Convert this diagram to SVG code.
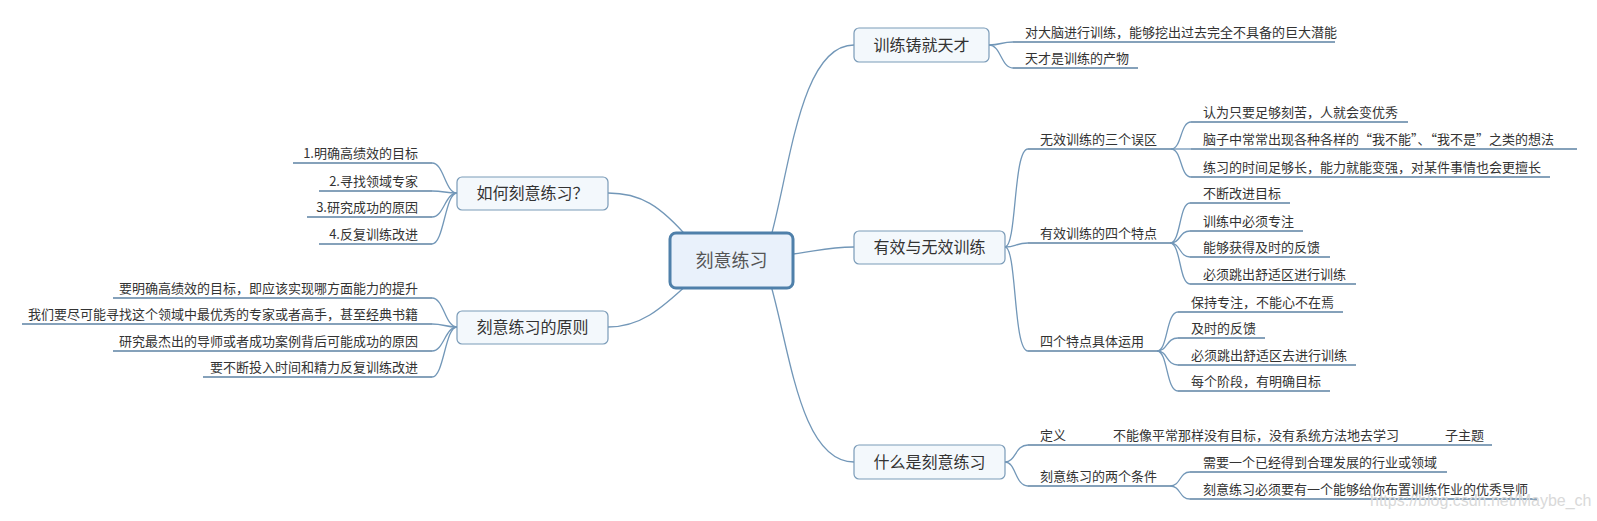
<svg xmlns="http://www.w3.org/2000/svg" width="1597" height="521" viewBox="0 0 1597 521">
<style>
text{font-family:"Noto Sans CJK SC","Noto Sans",sans-serif;fill:#333}
.t{font-size:13px}
.tr{font-size:13px;text-anchor:end}
.bt{font-size:16px;text-anchor:middle}
.ct{font-size:18px;text-anchor:middle;fill:#555}
.box{fill:#f3f8fc;stroke:#7a9bb8;stroke-width:1.2}
.cbox{fill:#e9f1fb;stroke:#4f80aa;stroke-width:3}
.ln{stroke:#5d82a3;stroke-width:1.3;fill:none}
.cn{stroke:#7297b8;stroke-width:1.3;fill:none}
.wm{font-family:"Liberation Sans",Arial,sans-serif;font-size:16px;fill:#d9d9d9}
</style>
<rect width="1597" height="521" fill="#fff"/>
<g id="connectors">
<path class="cn" d="M770,240 C790,170 800,45 854,45"/>
<path class="cn" d="M785,255 C815,252 825,247 854,247"/>
<path class="cn" d="M770,282 C790,350 800,462 854,462"/>
<path class="cn" d="M690,240 C660,205 640,193 608,193"/>
<path class="cn" d="M690,282 C660,310 640,327 608,327"/>
<path class="cn" d="M989,45 C1001,45 1001,42 1013,42"/>
<path class="cn" d="M989,45 C1001,45 1001,68 1013,68"/>
<path class="cn" d="M1005,247 C1017,247 1013,149 1028,149"/>
<path class="cn" d="M1005,247 C1016,247 1016,243 1028,243"/>
<path class="cn" d="M1005,247 C1017,247 1013,351 1028,351"/>
<path class="cn" d="M1005,462 C1016,462 1015,445 1028,445"/>
<path class="cn" d="M1005,462 C1016,462 1015,486 1028,486"/>
<path class="cn" d="M1171,149 C1182,149 1180,122 1191,122"/>
<path class="cn" d="M1171,149 L1191,149"/>
<path class="cn" d="M1171,149 C1182,149 1180,177 1191,177"/>
<path class="cn" d="M1170,243 C1181,243 1179,203 1190,203"/>
<path class="cn" d="M1170,243 C1181,243 1179,231 1190,231"/>
<path class="cn" d="M1170,243 C1181,243 1179,257 1190,257"/>
<path class="cn" d="M1170,243 C1181,243 1179,284 1190,284"/>
<path class="cn" d="M1157,351 C1168,351 1166,312 1178,312"/>
<path class="cn" d="M1157,351 C1168,351 1166,338 1178,338"/>
<path class="cn" d="M1157,351 C1168,351 1166,365 1178,365"/>
<path class="cn" d="M1157,351 C1168,351 1166,391 1178,391"/>
<path class="cn" d="M1170,486 C1181,486 1179,472 1190,472"/>
<path class="cn" d="M1170,486 C1181,486 1179,499 1190,499"/>
<path class="cn" d="M457,193 C445,193 444,163 432,163"/>
<path class="cn" d="M457,193 C445,193 444,191 432,191"/>
<path class="cn" d="M457,193 C445,193 444,217 432,217"/>
<path class="cn" d="M457,193 C445,193 444,244 432,244"/>
<path class="cn" d="M457,327 C445,327 444,298 432,298"/>
<path class="cn" d="M457,327 C445,327 444,324 432,324"/>
<path class="cn" d="M457,327 C445,327 444,351 432,351"/>
<path class="cn" d="M457,327 C445,327 444,377 432,377"/>
</g>
<g id="central">
<rect class="cbox" x="670" y="233" width="123" height="55" rx="6"/>
<text class="ct" x="731.5" y="267">刻意练习</text>
</g>
<g id="n-xunlian">
<rect class="box" x="854" y="28" width="135" height="34" rx="5"/>
<text class="bt" x="921.5" y="51">训练铸就天才</text>
</g>
<g id="n-xunlian-1"><path class="ln" d="M1013,42 H1335"/><text class="t" x="1025" y="37">对大脑进行训练，能够挖出过去完全不具备的巨大潜能</text></g>
<g id="n-xunlian-2"><path class="ln" d="M1013,68 H1138"/><text class="t" x="1025" y="63">天才是训练的产物</text></g>
<g id="n-youxiao">
<rect class="box" x="854" y="231" width="151" height="33" rx="5"/>
<text class="bt" x="929.5" y="253">有效与无效训练</text>
</g>
<g id="n-wuxiao"><path class="ln" d="M1028,149 H1171"/><text class="t" x="1040" y="144">无效训练的三个误区</text></g>
<g id="n-wuxiao-1"><path class="ln" d="M1191,122 H1408"/><text class="t" x="1203" y="117">认为只要足够刻苦，人就会变优秀</text></g>
<g id="n-wuxiao-2"><path class="ln" d="M1191,149 H1577"/><text class="t" x="1203" y="144">脑子中常常出现各种各样的“我不能”、“我不是”之类的想法</text></g>
<g id="n-wuxiao-3"><path class="ln" d="M1191,177 H1550"/><text class="t" x="1203" y="172">练习的时间足够长，能力就能变强，对某件事情也会更擅长</text></g>
<g id="n-tedian"><path class="ln" d="M1028,243 H1170"/><text class="t" x="1040" y="238">有效训练的四个特点</text></g>
<g id="n-tedian-1"><path class="ln" d="M1190,203 H1290"/><text class="t" x="1203" y="198">不断改进目标</text></g>
<g id="n-tedian-2"><path class="ln" d="M1190,231 H1303"/><text class="t" x="1203" y="226">训练中必须专注</text></g>
<g id="n-tedian-3"><path class="ln" d="M1190,257 H1330"/><text class="t" x="1203" y="252">能够获得及时的反馈</text></g>
<g id="n-tedian-4"><path class="ln" d="M1190,284 H1356"/><text class="t" x="1203" y="279">必须跳出舒适区进行训练</text></g>
<g id="n-yunyong"><path class="ln" d="M1028,351 H1157"/><text class="t" x="1040" y="346">四个特点具体运用</text></g>
<g id="n-yunyong-1"><path class="ln" d="M1178,312 H1343"/><text class="t" x="1191" y="307">保持专注，不能心不在焉</text></g>
<g id="n-yunyong-2"><path class="ln" d="M1178,338 H1265"/><text class="t" x="1191" y="333">及时的反馈</text></g>
<g id="n-yunyong-3"><path class="ln" d="M1178,365 H1356"/><text class="t" x="1191" y="360">必须跳出舒适区去进行训练</text></g>
<g id="n-yunyong-4"><path class="ln" d="M1178,391 H1330"/><text class="t" x="1191" y="386">每个阶段，有明确目标</text></g>
<g id="n-shenme">
<rect class="box" x="854" y="445" width="151" height="34" rx="5"/>
<text class="bt" x="929.5" y="468">什么是刻意练习</text>
</g>
<g id="n-dingyi"><path class="ln" d="M1028,445 H1100"/><text class="t" x="1040" y="440">定义</text></g>
<g id="n-dingyi-1"><path class="ln" d="M1100,445 H1432"/><text class="t" x="1113" y="440">不能像平常那样没有目标，没有系统方法地去学习</text></g>
<g id="n-dingyi-2"><path class="ln" d="M1432,445 H1492"/><text class="t" x="1445" y="440">子主题</text></g>
<g id="n-tiaojian"><path class="ln" d="M1028,486 H1170"/><text class="t" x="1040" y="481">刻意练习的两个条件</text></g>
<g id="n-tiaojian-1"><path class="ln" d="M1190,472 H1447"/><text class="t" x="1203" y="467">需要一个已经得到合理发展的行业或领域</text></g>
<g id="n-tiaojian-2"><path class="ln" d="M1190,499 H1537"/><text class="t" x="1203" y="494">刻意练习必须要有一个能够给你布置训练作业的优秀导师</text></g>
<g id="n-ruhe">
<rect class="box" x="457" y="177" width="151" height="33" rx="5"/>
<text class="bt" x="532.5" y="199">如何刻意练习？</text>
</g>
<g id="n-ruhe-1"><path class="ln" d="M293,163 H432"/><text class="tr" x="418" y="158">1.明确高绩效的目标</text></g>
<g id="n-ruhe-2"><path class="ln" d="M319,191 H432"/><text class="tr" x="418" y="186">2.寻找领域专家</text></g>
<g id="n-ruhe-3"><path class="ln" d="M307,217 H432"/><text class="tr" x="418" y="212">3.研究成功的原因</text></g>
<g id="n-ruhe-4"><path class="ln" d="M319,244 H432"/><text class="tr" x="418" y="239">4.反复训练改进</text></g>
<g id="n-yuanze">
<rect class="box" x="457" y="311" width="151" height="33" rx="5"/>
<text class="bt" x="532.5" y="333">刻意练习的原则</text>
</g>
<g id="n-yuanze-1"><path class="ln" d="M113,298 H432"/><text class="tr" x="418" y="293">要明确高绩效的目标，即应该实现哪方面能力的提升</text></g>
<g id="n-yuanze-2"><path class="ln" d="M22,324 H432"/><text class="tr" x="418" y="319">我们要尽可能寻找这个领域中最优秀的专家或者高手，甚至经典书籍</text></g>
<g id="n-yuanze-3"><path class="ln" d="M113,351 H432"/><text class="tr" x="418" y="346">研究最杰出的导师或者成功案例背后可能成功的原因</text></g>
<g id="n-yuanze-4"><path class="ln" d="M203,377 H432"/><text class="tr" x="418" y="372">要不断投入时间和精力反复训练改进</text></g>
<text class="wm" x="1370" y="506">https://blog.csdn.net/Maybe_ch</text>
</svg>
